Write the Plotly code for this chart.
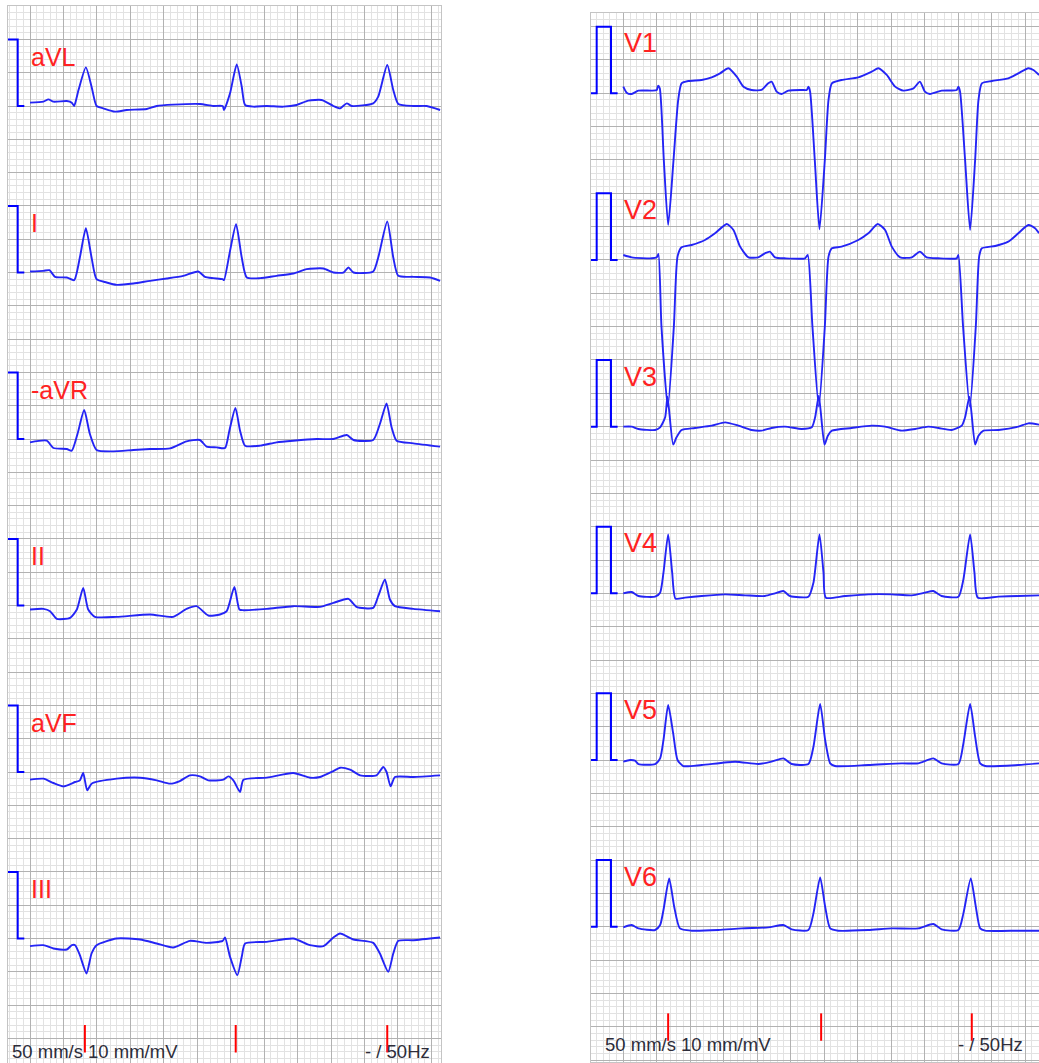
import plotly.graph_objects as go

# ---------------- data: time in seconds, amplitude in mV ----------------
aVL_t = [0, 0.040, 0.055, 0.070, 0.110, 0.125, 0.132, 0.145, 0.167, 0.184, 0.199, 0.219, 0.254, 0.289, 0.349, 0.379, 0.428, 0.508, 0.548, 0.576, 0.580, 0.598, 0.618, 0.633, 0.643, 0.668, 0.708, 0.757, 0.797, 0.832, 0.872, 0.907, 0.927, 0.947, 0.962, 1.026, 1.041, 1.068, 1.086, 1.101, 1.146, 1.186, 1.226]
aVL_mv = [0.05, 0.065, 0.10, 0.065, 0.075, 0.05, 0.00, 0.24, 0.58, 0.29, 0.00, -0.035, -0.085, -0.06, -0.045, 0.00, 0.02, 0.03, 0.00, 0.00, -0.06, 0.19, 0.625, 0.29, 0.015, -0.01, 0.00, -0.01, 0.015, 0.08, 0.09, 0.00, -0.035, 0.04, 0.00, 0.04, 0.14, 0.615, 0.24, 0.03, 0.00, 0.00, -0.06]

I_t = [0, 0.040, 0.058, 0.075, 0.110, 0.132, 0.149, 0.167, 0.184, 0.199, 0.229, 0.259, 0.309, 0.359, 0.409, 0.458, 0.503, 0.523, 0.548, 0.576, 0.580, 0.598, 0.616, 0.633, 0.648, 0.688, 0.737, 0.787, 0.827, 0.877, 0.907, 0.937, 0.952, 0.967, 1.026, 1.041, 1.068, 1.086, 1.101, 1.146, 1.196, 1.226]
I_mv = [0.015, 0.025, 0.035, -0.065, -0.075, -0.115, 0.225, 0.665, 0.225, -0.10, -0.15, -0.185, -0.165, -0.125, -0.09, -0.05, 0.015, -0.065, -0.085, -0.10, -0.115, 0.325, 0.725, 0.225, -0.075, -0.085, -0.05, -0.015, 0.05, 0.06, 0.00, 0.00, 0.075, 0.00, 0.015, 0.225, 0.765, 0.225, -0.05, -0.065, -0.075, -0.125]

maVR_t = [0, 0.050, 0.070, 0.110, 0.125, 0.142, 0.162, 0.179, 0.199, 0.249, 0.309, 0.359, 0.419, 0.468, 0.508, 0.528, 0.558, 0.583, 0.596, 0.614, 0.628, 0.643, 0.688, 0.737, 0.787, 0.857, 0.907, 0.947, 0.967, 1.026, 1.046, 1.066, 1.081, 1.096, 1.146, 1.226]
maVR_mv = [-0.05, -0.025, -0.135, -0.15, -0.175, 0.075, 0.435, 0.075, -0.165, -0.185, -0.165, -0.15, -0.14, -0.035, -0.015, -0.115, -0.125, -0.135, 0.125, 0.465, 0.125, -0.10, -0.10, -0.05, -0.025, 0.00, 0.00, 0.06, -0.015, -0.015, 0.225, 0.535, 0.175, -0.025, -0.065, -0.115]

II_t = [0, 0.040, 0.060, 0.080, 0.120, 0.140, 0.159, 0.174, 0.194, 0.259, 0.359, 0.428, 0.468, 0.498, 0.533, 0.568, 0.588, 0.611, 0.626, 0.638, 0.708, 0.787, 0.867, 0.907, 0.952, 0.976, 1.026, 1.041, 1.061, 1.076, 1.091, 1.146, 1.226]
II_mv = [-0.06, -0.05, -0.085, -0.20, -0.185, -0.06, 0.265, -0.06, -0.17, -0.17, -0.135, -0.17, -0.05, -0.01, -0.15, -0.135, -0.085, 0.28, -0.06, -0.07, -0.05, -0.01, -0.02, 0.04, 0.10, -0.02, -0.035, 0.14, 0.39, 0.09, -0.01, -0.05, -0.085]

aVF_t = [0, 0.040, 0.070, 0.100, 0.135, 0.149, 0.159, 0.171, 0.184, 0.259, 0.329, 0.379, 0.419, 0.448, 0.478, 0.508, 0.533, 0.578, 0.593, 0.608, 0.628, 0.638, 0.708, 0.787, 0.837, 0.867, 0.907, 0.927, 0.957, 0.987, 1.036, 1.056, 1.066, 1.078, 1.091, 1.146, 1.226]
aVF_mv = [-0.115, -0.10, -0.165, -0.215, -0.15, -0.125, -0.015, -0.275, -0.175, -0.10, -0.085, -0.125, -0.175, -0.135, -0.05, -0.065, -0.125, -0.115, -0.065, -0.125, -0.30, -0.115, -0.085, -0.015, -0.085, -0.075, 0.015, 0.065, 0.035, -0.05, -0.05, 0.075, 0.00, -0.215, -0.075, -0.075, -0.05]

III_t = [0, 0.040, 0.070, 0.110, 0.125, 0.135, 0.149, 0.169, 0.184, 0.199, 0.259, 0.329, 0.379, 0.428, 0.478, 0.528, 0.576, 0.583, 0.598, 0.620, 0.633, 0.643, 0.708, 0.787, 0.837, 0.877, 0.907, 0.927, 0.967, 1.026, 1.046, 1.071, 1.086, 1.101, 1.146, 1.226]
III_mv = [-0.115, -0.10, -0.15, -0.165, -0.10, -0.10, -0.25, -0.525, -0.225, -0.10, 0.00, -0.015, -0.075, -0.135, -0.035, -0.065, -0.035, 0.015, -0.275, -0.55, -0.275, -0.075, -0.05, 0.00, -0.10, -0.115, 0.015, 0.075, -0.015, -0.065, -0.225, -0.50, -0.225, -0.035, -0.025, 0.015]

V1_t = [0, 0.010, 0.025, 0.045, 0.085, 0.100, 0.104, 0.109, 0.121, 0.134, 0.150, 0.164, 0.174, 0.194, 0.234, 0.264, 0.289, 0.314, 0.339, 0.359, 0.383, 0.413, 0.433, 0.443, 0.458, 0.473, 0.493, 0.533, 0.548, 0.553, 0.558, 0.572, 0.586, 0.602, 0.613, 0.623, 0.652, 0.702, 0.742, 0.762, 0.787, 0.812, 0.837, 0.867, 0.886, 0.901, 0.916, 0.951, 0.996, 1.001, 1.006, 1.021, 1.036, 1.051, 1.061, 1.071, 1.101, 1.150, 1.180, 1.210, 1.225, 1.242]
V1_mv = [0.10, 0.01, -0.01, 0.04, 0.04, 0.05, 0.115, 0.075, -1.00, -1.975, -1.00, -0.10, 0.15, 0.185, 0.20, 0.24, 0.30, 0.375, 0.25, 0.10, 0.05, 0.05, 0.15, 0.175, 0.025, -0.01, 0.04, 0.05, 0.05, 0.10, 0.025, -1.00, -2.04, -1.00, -0.10, 0.15, 0.20, 0.24, 0.325, 0.375, 0.275, 0.10, 0.04, 0.075, 0.175, 0.025, -0.01, 0.04, 0.05, 0.10, 0.025, -1.00, -2.05, -1.00, -0.10, 0.15, 0.185, 0.225, 0.30, 0.375, 0.35, 0.275]

V2_t = [0, 0.025, 0.085, 0.100, 0.105, 0.114, 0.133, 0.151, 0.162, 0.174, 0.204, 0.244, 0.274, 0.309, 0.329, 0.349, 0.374, 0.403, 0.423, 0.438, 0.453, 0.483, 0.543, 0.551, 0.565, 0.584, 0.602, 0.613, 0.623, 0.652, 0.702, 0.732, 0.760, 0.782, 0.802, 0.827, 0.862, 0.886, 0.906, 0.941, 0.996, 1.001, 1.015, 1.035, 1.053, 1.063, 1.071, 1.111, 1.150, 1.180, 1.210, 1.230, 1.242]
V2_mv = [0.075, 0.04, 0.025, 0.04, 0.09, -1.00, -2.20, -1.00, 0.05, 0.19, 0.225, 0.30, 0.40, 0.54, 0.45, 0.20, 0.04, 0.04, 0.10, 0.125, 0.04, 0.025, 0.025, 0.075, -1.00, -2.20, -1.00, 0.05, 0.175, 0.20, 0.30, 0.40, 0.54, 0.45, 0.20, 0.04, 0.04, 0.125, 0.04, 0.025, 0.025, 0.075, -1.00, -2.20, -1.00, 0.05, 0.175, 0.21, 0.275, 0.40, 0.525, 0.475, 0.40]

V3_t = [0, 0.025, 0.045, 0.095, 0.110, 0.125, 0.132, 0.149, 0.159, 0.174, 0.214, 0.264, 0.304, 0.344, 0.383, 0.413, 0.443, 0.483, 0.533, 0.563, 0.573, 0.584, 0.601, 0.611, 0.623, 0.682, 0.742, 0.782, 0.832, 0.872, 0.911, 0.941, 0.981, 1.011, 1.021, 1.034, 1.051, 1.061, 1.076, 1.121, 1.180, 1.210, 1.242]
V3_mv = [0.00, 0.00, -0.035, -0.05, -0.01, 0.14, 0.45, -0.27, -0.16, -0.05, -0.02, 0.015, 0.065, 0.015, -0.05, -0.06, -0.02, 0.00, -0.035, -0.01, 0.14, 0.465, -0.27, -0.135, -0.06, -0.02, 0.015, 0.00, -0.06, -0.035, 0.00, -0.02, -0.05, 0.015, 0.14, 0.45, -0.27, -0.135, -0.06, -0.05, 0.00, 0.05, 0.03]

V4_t = [0, 0.025, 0.045, 0.095, 0.110, 0.120, 0.134, 0.146, 0.156, 0.184, 0.234, 0.304, 0.364, 0.423, 0.453, 0.478, 0.498, 0.553, 0.568, 0.586, 0.598, 0.605, 0.662, 0.732, 0.802, 0.862, 0.901, 0.926, 0.951, 1.001, 1.016, 1.036, 1.049, 1.059, 1.121, 1.180, 1.242]
V4_mv = [0.00, 0.02, -0.04, -0.05, 0.01, 0.31, 0.885, 0.31, -0.08, -0.065, -0.04, -0.015, -0.03, -0.04, 0.00, 0.035, -0.04, -0.05, 0.16, 0.885, 0.31, -0.065, -0.04, -0.015, -0.015, -0.03, 0.01, 0.035, -0.04, -0.05, 0.21, 0.885, 0.31, -0.065, -0.05, -0.04, -0.03]

V5_t = [0, 0.020, 0.035, 0.045, 0.095, 0.110, 0.120, 0.134, 0.149, 0.162, 0.179, 0.234, 0.334, 0.403, 0.443, 0.478, 0.503, 0.553, 0.568, 0.588, 0.603, 0.618, 0.632, 0.732, 0.832, 0.881, 0.926, 0.951, 1.001, 1.016, 1.036, 1.051, 1.066, 1.081, 1.180, 1.242]
V5_mv = [-0.025, 0.00, -0.01, -0.06, -0.06, 0.025, 0.30, 0.825, 0.40, 0.00, -0.09, -0.075, -0.025, -0.06, -0.025, 0.025, -0.06, -0.06, 0.20, 0.84, 0.30, -0.05, -0.09, -0.075, -0.05, -0.05, 0.025, -0.05, -0.06, 0.25, 0.84, 0.35, -0.05, -0.09, -0.075, -0.05]

V6_t = [0, 0.025, 0.045, 0.095, 0.110, 0.120, 0.137, 0.152, 0.169, 0.204, 0.284, 0.354, 0.433, 0.478, 0.503, 0.553, 0.568, 0.588, 0.603, 0.618, 0.642, 0.732, 0.802, 0.881, 0.926, 0.951, 1.001, 1.016, 1.038, 1.053, 1.066, 1.081, 1.180, 1.242]
V6_mv = [-0.01, 0.025, -0.025, -0.05, 0.025, 0.25, 0.725, 0.30, -0.025, -0.06, -0.05, -0.025, -0.01, 0.025, -0.04, -0.05, 0.20, 0.74, 0.30, -0.025, -0.06, -0.05, -0.025, -0.025, 0.04, -0.04, -0.05, 0.20, 0.725, 0.30, -0.025, -0.06, -0.06, -0.06]

left_leads = ["aVL", "I", "-aVR", "II", "aVF", "III"]
right_leads = ["V1", "V2", "V3", "V4", "V5", "V6"]
left_data = [(aVL_t, aVL_mv), (I_t, I_mv), (maVR_t, maVR_mv), (II_t, II_mv), (aVF_t, aVF_mv), (III_t, III_mv)]
right_data = [(V1_t, V1_mv), (V2_t, V2_mv), (V3_t, V3_mv), (V4_t, V4_mv), (V5_t, V5_mv), (V6_t, V6_mv)]

# 1 mV calibration pulse
cal_t = [-0.0965, -0.0795, -0.0795, -0.0368, -0.0368, -0.017]
cal_mv = [0, 0, 1, 1, 0, 0]

# beat markers (s)
left_beat_marks = [0.164, 0.615, 1.068]
right_beat_marks = [0.134, 0.591, 1.041]

speed_label = "50 mm/s 10 mm/mV"
filter_label = "- / 50Hz"

# ---------------- layout constants ----------------
W, H = 1039, 1063
ROW = 2.5            # mV between rows (25 mm)
TRACE_COLOR = "#2424f5"
CAL_COLOR = "#0000ff"
LABEL_COLOR = "#ff2222"
TEXT_COLOR = "#2d2d3a"
FONT = "Liberation Sans, Arial, sans-serif"

fig = go.Figure()

# (x axis, y axis, names, data, marks, label size, label y, footer y)
panels = [
    ("x", "y", left_leads, left_data, left_beat_marks, 25, 0.74, -14.19),
    ("x2", "y2", right_leads, right_data, right_beat_marks, 27, 0.75, -14.27),
]

annotations = []
for xa, ya, names, data, marks, lab_size, lab_y, foot_y in panels:
    for i, (name, (t, mv)) in enumerate(zip(names, data)):
        off = -ROW * i
        fig.add_trace(go.Scatter(
            x=cal_t, y=[v + off for v in cal_mv], mode="lines",
            line=dict(color=CAL_COLOR, width=2), xaxis=xa, yaxis=ya,
            hoverinfo="skip", showlegend=False))
        fig.add_trace(go.Scatter(
            x=t, y=[v + off for v in mv], mode="lines",
            line=dict(color=TRACE_COLOR, width=1.9, shape="spline", smoothing=0.6),
            xaxis=xa, yaxis=ya, hoverinfo="skip", showlegend=False))
        annotations.append(dict(
            x=-0.004, y=off + lab_y, xref=xa, yref=ya, text=name, showarrow=False,
            xanchor="left", yanchor="middle",
            font=dict(family=FONT, size=lab_size, color=LABEL_COLOR)))
    for m in marks:
        fig.add_trace(go.Scatter(
            x=[m, m], y=[-13.8, -14.21], mode="lines",
            line=dict(color="#ff0000", width=2), xaxis=xa, yaxis=ya,
            hoverinfo="skip", showlegend=False))
    annotations.append(dict(
        x=-0.061, y=foot_y, xref=xa, yref=ya, text=speed_label, showarrow=False,
        xanchor="left", yanchor="middle",
        font=dict(family=FONT, size=18.5, color=TEXT_COLOR)))
    annotations.append(dict(
        x=0.994, y=foot_y, xref=xa, yref=ya, text=filter_label, showarrow=False,
        xanchor="left", yanchor="middle",
        font=dict(family=FONT, size=18.5, color=TEXT_COLOR)))

MAJOR = "#b2b2b2"
MINOR = "#e2e2e2"


def xax(domain, rng, anchor):
    return dict(domain=domain, range=rng, anchor=anchor, tick0=0, dtick=0.1,
                showgrid=True, gridcolor=MAJOR, gridwidth=1.4,
                minor=dict(dtick=0.02, showgrid=True, gridcolor=MINOR, gridwidth=1),
                showticklabels=False, ticks="", zeroline=False,
                showline=True, mirror=True, linecolor="#c4c4c4", linewidth=1.2,
                fixedrange=True)


def yax(domain, rng, anchor):
    return dict(domain=domain, range=rng, anchor=anchor, tick0=0, dtick=0.5,
                showgrid=True, gridcolor=MAJOR, gridwidth=1.4,
                minor=dict(dtick=0.1, showgrid=True, gridcolor=MINOR, gridwidth=1),
                showticklabels=False, ticks="", zeroline=False,
                showline=True, mirror=True, linecolor="#c4c4c4", linewidth=1.2,
                fixedrange=True)


fig.update_layout(
    width=W, height=H,
    margin=dict(l=0, r=0, t=0, b=0),
    paper_bgcolor="white", plot_bgcolor="white",
    showlegend=False,
    xaxis=xax([7.5 / W, 441 / W], [-0.0673, 1.2287], "y"),
    yaxis=yax([0, 1 - 6.1 / H], [-14.369, 1.5], "x"),
    xaxis2=xax([591 / W, 1.0], [-0.0965, 1.2418], "y2"),
    yaxis2=yax([1.5 / H, 1 - 13.3 / H], [-14.522, 1.2], "x2"),
    annotations=annotations,
)

fig.write_html("out.html", config={"displayModeBar": False},
               post_script="document.body.style.margin='0';document.body.style.overflow='hidden';")
